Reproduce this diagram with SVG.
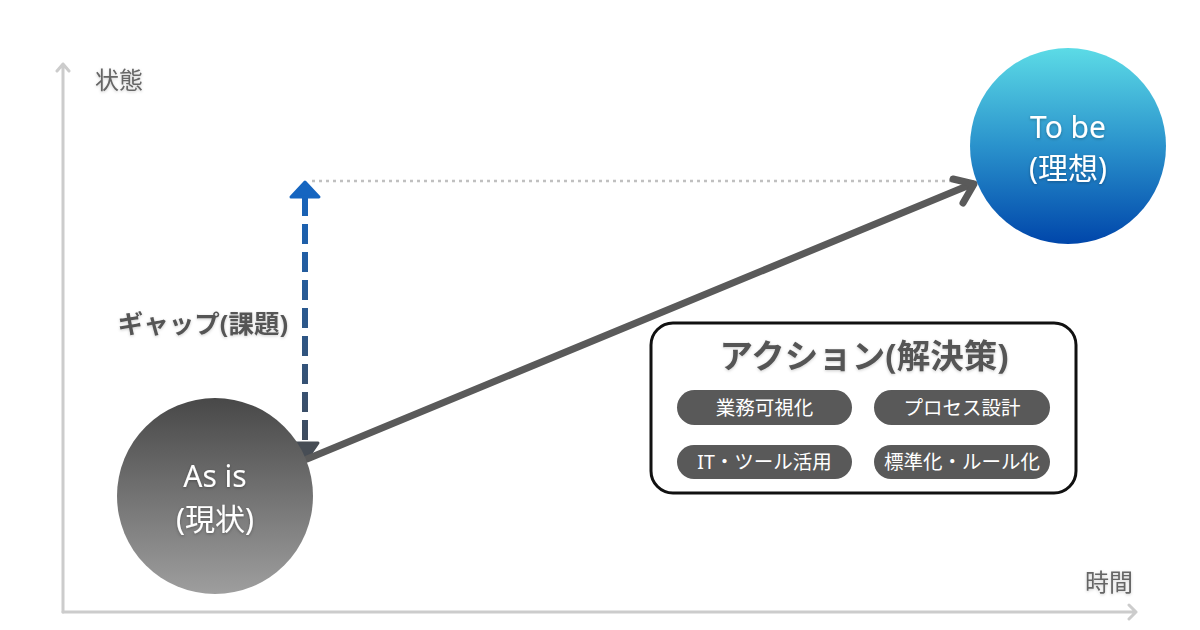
<svg xmlns="http://www.w3.org/2000/svg" width="1200" height="630" viewBox="0 0 1200 630">
<defs>
  <linearGradient id="gAsis" x1="0" y1="0" x2="0" y2="1">
    <stop offset="0" stop-color="#484848"/>
    <stop offset="1" stop-color="#9e9e9e"/>
  </linearGradient>
  <linearGradient id="gTobe" x1="0" y1="0" x2="0" y2="1">
    <stop offset="0" stop-color="#5cdbe6"/>
    <stop offset="0.5" stop-color="#2a92cc"/>
    <stop offset="1" stop-color="#0046aa"/>
  </linearGradient>
  <linearGradient id="gGap" gradientUnits="userSpaceOnUse" x1="0" y1="181" x2="0" y2="463">
    <stop offset="0" stop-color="#1565c0"/>
    <stop offset="1" stop-color="#434a55"/>
  </linearGradient>
  <filter id="ts" x="-20%" y="-40%" width="140%" height="180%">
    <feDropShadow dx="0" dy="1" stdDeviation="1.5" flood-color="#000" flood-opacity="0.3"/>
  </filter>
  <filter id="tsl" x="-20%" y="-40%" width="140%" height="180%">
    <feDropShadow dx="0" dy="1" stdDeviation="1.5" flood-color="#000" flood-opacity="0.2"/>
  </filter>
</defs>
<style>
  text { font-family: "Noto Sans", "Noto Sans CJK JP", sans-serif; }
  .axis { fill: none; stroke: #cccccc; stroke-width: 3; stroke-linecap: round; stroke-linejoin: round; }
  .axlbl { font-size: 24px; fill: #666666; }
  .node { fill: #ffffff; font-size: 30px; text-anchor: middle; }
  .pill { fill: #595959; }
  .pilltxt { fill: #ffffff; font-size: 19.5px; text-anchor: middle; }
</style>
<rect width="1200" height="630" fill="#ffffff"/>

<g id="axes">
  <path class="axis" d="M63 612 L63 64 M57 71 L63 64 L69 71"/>
  <path class="axis" d="M63 612 L1136 612 M1129 605 L1136 612 L1129 619"/>
  <text class="axlbl" x="95" y="89" filter="url(#tsl)">状態</text>
  <text class="axlbl" x="1085" y="591" filter="url(#tsl)">時間</text>
</g>

<g id="connectors">
  <line x1="312" y1="181" x2="960" y2="181" stroke="#c0c0c0" stroke-width="2.5" stroke-dasharray="3 4"/>
  <line x1="305" y1="196" x2="305" y2="444" stroke="url(#gGap)" stroke-width="6" stroke-dasharray="20 8"/>
  <path d="M305 182 L319 197 L291 197 Z" fill="#1565c0" stroke="#1565c0" stroke-width="3" stroke-linejoin="round"/>
  <path d="M305 462 L318 443 L292 443 Z" fill="#474d55" stroke="#474d55" stroke-width="3" stroke-linejoin="round"/>
  <path d="M307 459 L972 184" fill="none" stroke="#5a5a5a" stroke-width="7" stroke-linecap="round"/>
  <path d="M953 179 L974 184 L963 203" fill="none" stroke="#5a5a5a" stroke-width="7" stroke-linecap="round" stroke-linejoin="round"/>
  <text x="203" y="333" font-size="25.5" font-weight="bold" fill="#555555" text-anchor="middle" filter="url(#tsl)">ギャップ(課題)</text>
</g>

<g id="asis">
  <circle cx="215" cy="496" r="98" fill="url(#gAsis)"/>
  <text class="node" x="215" y="487" font-size="28" filter="url(#ts)">As is</text>
  <text class="node" x="215" y="530" font-size="28" filter="url(#ts)">(現状)</text>
</g>

<g id="tobe">
  <circle cx="1068" cy="146" r="98" fill="url(#gTobe)"/>
  <text class="node" x="1068" y="138" filter="url(#ts)">To be</text>
  <text class="node" x="1068" y="179" filter="url(#ts)">(理想)</text>
</g>

<g id="action">
  <rect x="651" y="323" width="425" height="170" rx="22" fill="#ffffff" stroke="#111111" stroke-width="3"/>
  <text x="864" y="368" font-size="33.5" font-weight="bold" fill="#555555" text-anchor="middle" filter="url(#tsl)">アクション(解決策)</text>
  <g id="pill1">
    <rect class="pill" x="677" y="390" width="175" height="35" rx="17.5"/>
    <text class="pilltxt" x="764.5" y="414.5">業務可視化</text>
  </g>
  <g id="pill2">
    <rect class="pill" x="874" y="390" width="176" height="35" rx="17.5"/>
    <text class="pilltxt" x="962" y="414.5">プロセス設計</text>
  </g>
  <g id="pill3">
    <rect class="pill" x="677" y="445" width="175" height="34" rx="17"/>
    <text class="pilltxt" x="764.5" y="469">IT・ツール活用</text>
  </g>
  <g id="pill4">
    <rect class="pill" x="874" y="445" width="176" height="34" rx="17"/>
    <text class="pilltxt" x="962" y="469">標準化・ルール化</text>
  </g>
</g>
</svg>
